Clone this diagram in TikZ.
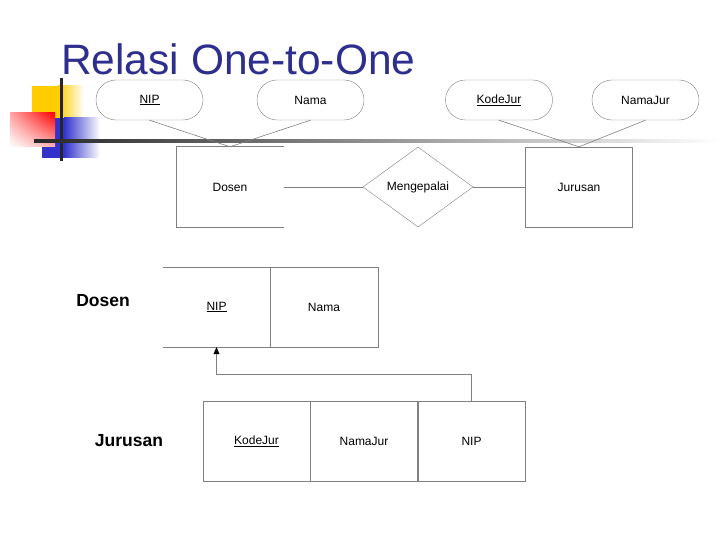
\documentclass[tikz,border=0pt]{standalone}
\usepackage{fontspec}
\setmainfont{Liberation Sans}
\usetikzlibrary{shapes.geometric,arrows.meta,shadings}
\definecolor{titleblue}{RGB}{46,46,143}
\definecolor{erline}{RGB}{128,128,128}
\definecolor{decoyellow}{RGB}{255,204,0}
\definecolor{decoblue}{RGB}{51,51,204}
\definecolor{decored}{RGB}{255,0,0}
\tikzset{
  small/.style={font=\fontsize{12}{14}\selectfont},
  attr/.style={small, draw=erline, rounded corners=20pt, minimum width=107pt, minimum height=40pt, inner sep=0pt},
  entity/.style={small, minimum width=107pt, minimum height=80pt, inner sep=0pt},
  relship/.style={small, draw=erline, diamond, aspect=1.375, minimum width=110pt, minimum height=80pt, inner sep=0pt},
  cell/.style={small, minimum width=107pt, minimum height=80pt, inner sep=0pt},
  tabname/.style={font=\fontsize{17.5}{20}\selectfont\bfseries, inner sep=0pt},
  link/.style={draw=erline, line width=0.6pt},
}
\begin{document}
\begin{tikzpicture}[x=1pt, y=-1pt]
  \useasboundingbox (0,0) rectangle (720,540);
  % Corner decoration
  \fill[decoyellow] (32,86) rectangle (58,120);
  \shade[left color=decoyellow, right color=white] (58,86) rectangle (84,120);
  \fill[decoblue] (42,118) rectangle (64,158);
  \shade[left color=decoblue, right color=white] (64,118) rectangle (100,158);
  \shade[upper right=decored, upper left=decored!35, lower right=decored!30, lower left=white] (10,113) rectangle (55,147);
  \fill[black!85] (59.5,78) rectangle (62.5,161);
  \shade[left color=black!85, middle color=black!45, right color=white] (34,139.5) rectangle (720,142.5);
  % Title
  \node[anchor=base west, inner sep=0pt, text=titleblue, font=\fontsize{42.5}{48}\selectfont] (title) at (61,75) {Relasi One-to-One};
  % ER diagram: attributes
  \node[attr] (anip) at (149.5,100) {\underline{NIP}};
  \node[attr] (anama) at (310.5,100) {Nama};
  \node[attr] (akode) at (499,100) {\underline{KodeJur}};
  \node[attr] (anamajur) at (645.5,100) {NamaJur};
  % Entities and relationship
  \node[entity] (edosen) at (230,187) {Dosen};
  \draw[link] (edosen.north east) -- (edosen.north west) -- (edosen.south west) -- (edosen.south east);
  \node[entity, draw=erline] (ejurusan) at (579,187) {Jurusan};
  \node[relship] (rkepala) at (418,187) {Mengepalai};
  \draw[link] (anip.south) -- (edosen.north);
  \draw[link] (anama.south) -- (edosen.north);
  \draw[link] (akode.south) -- (ejurusan.north);
  \draw[link] (anamajur.south) -- (ejurusan.north);
  \draw[link] (edosen.east) -- (rkepala.west);
  \draw[link] (rkepala.east) -- (ejurusan.west);
  % Table Dosen
  \node[tabname] (tdosen) at (103,301) {Dosen};
  \node[cell] (dnip) at (216.5,307) {\underline{NIP}};
  \draw[link] (dnip.north west) -- (dnip.north east);
  \draw[link] (dnip.south west) -- (dnip.south east);
  \node[cell, draw=erline, minimum width=108pt] (dnama) at (324,307) {Nama};
  % Table Jurusan
  \node[tabname] (tjurusan) at (129,441) {Jurusan};
  \node[cell, draw=erline] (jkode) at (256.5,441) {\underline{KodeJur}};
  \node[cell, draw=erline] (jnama) at (364,441) {NamaJur};
  \node[cell, draw=erline] (jnip) at (471.5,441) {NIP};
  % Foreign key
  \coordinate (fkbend) at (471.5,374);
  \draw[link, -{Triangle[length=7pt, width=6pt, color=black]}] (jnip.north) -- (fkbend) -| (dnip.south);
\end{tikzpicture}
\end{document}
